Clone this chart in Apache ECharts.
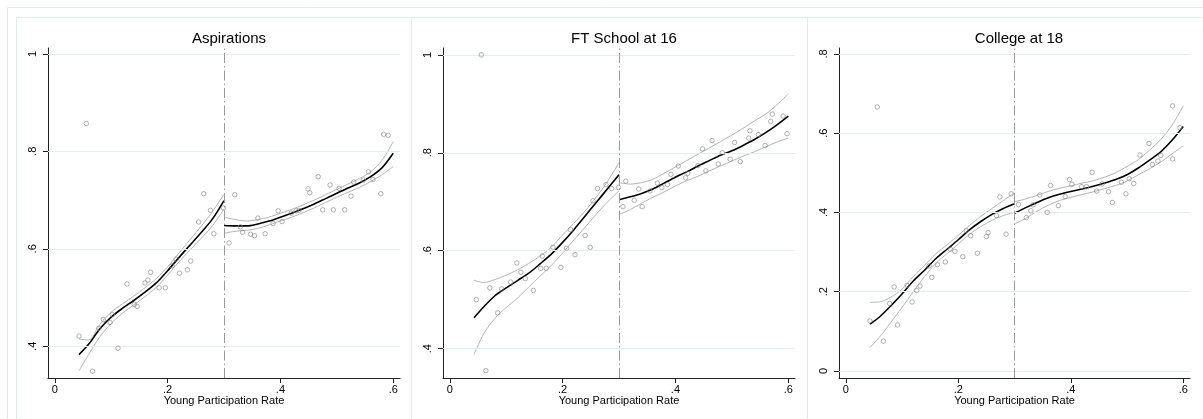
<!DOCTYPE html>
<html>
<head>
<meta charset="utf-8">
<script src="https://cdn.jsdelivr.net/npm/echarts@6/dist/echarts.min.js"></script>
<style>html,body{margin:0;padding:0;background:#fff;}#c{width:1203px;height:419px;}</style>
</head>
<body>
<div id="c"></div>
<script>
// ---------- data ----------
const panelTitles = ['Aspirations', 'FT School at 16', 'College at 18'];
const xTitle = 'Young Participation Rate';
const xTicks = [0, 0.2, 0.4, 0.6];
const yTicksAsp = [0.4, 0.6, 0.8, 1];
const yTicksFt = [0.4, 0.6, 0.8, 1];
const yTicksCol = [0, 0.2, 0.4, 0.6, 0.8];
const cutoff = 0.3;

const xL = [0.043,0.06,0.08,0.10,0.12,0.14,0.16,0.18,0.20,0.22,0.24,0.26,0.28,0.30];
const xR = [0.30,0.32,0.34,0.36,0.38,0.40,0.42,0.44,0.46,0.48,0.50,0.52,0.54,0.56,0.58,0.60];

// Aspirations
const aspX = [0.043,0.056,0.067,0.078,0.086,0.098,0.102,0.112,0.128,0.141,0.146,0.160,0.165,0.170,0.185,0.196,0.208,0.215,0.221,0.235,0.241,0.255,0.264,0.276,0.282,0.299,
              0.309,0.319,0.329,0.333,0.347,0.354,0.360,0.373,0.387,0.396,0.403,0.419,0.428,0.433,0.449,0.452,0.467,0.475,0.488,0.494,0.504,0.514,0.525,0.530,0.547,0.556,0.564,0.578,0.583,0.591];
const aspY = [0.421,0.857,0.349,0.437,0.455,0.449,0.465,0.396,0.528,0.486,0.482,0.530,0.536,0.552,0.520,0.520,0.565,0.579,0.550,0.557,0.575,0.655,0.713,0.679,0.631,0.684,
              0.612,0.711,0.645,0.634,0.630,0.627,0.663,0.631,0.652,0.678,0.656,0.673,0.678,0.679,0.723,0.715,0.748,0.680,0.731,0.680,0.724,0.680,0.708,0.737,0.741,0.758,0.742,0.713,0.835,0.833];
const aspFitL = [0.383,0.404,0.436,0.460,0.478,0.494,0.511,0.530,0.555,0.582,0.608,0.634,0.662,0.699];
const aspUpL  = [0.415,0.413,0.445,0.470,0.487,0.503,0.520,0.539,0.563,0.591,0.619,0.647,0.677,0.712];
const aspLoL  = [0.350,0.383,0.420,0.447,0.468,0.485,0.502,0.521,0.546,0.573,0.598,0.622,0.648,0.682];
const aspFitR = [0.648,0.647,0.647,0.651,0.657,0.665,0.673,0.682,0.692,0.703,0.714,0.725,0.735,0.748,0.766,0.796];
const aspUpR  = [0.665,0.660,0.657,0.660,0.665,0.673,0.681,0.690,0.700,0.711,0.722,0.733,0.744,0.758,0.781,0.820];
const aspLoR  = [0.632,0.636,0.638,0.642,0.649,0.657,0.665,0.674,0.684,0.695,0.706,0.716,0.726,0.738,0.752,0.769];

// FT School at 16
const ftX = [0.047,0.056,0.064,0.071,0.085,0.092,0.108,0.119,0.126,0.134,0.148,0.161,0.164,0.171,0.183,0.197,0.207,0.214,0.222,0.240,0.249,0.254,0.262,0.277,0.287,0.299,
             0.307,0.312,0.327,0.335,0.341,0.355,0.368,0.376,0.386,0.392,0.405,0.418,0.422,0.440,0.448,0.454,0.465,0.476,0.483,0.497,0.505,0.515,0.530,0.532,0.547,0.559,0.569,0.572,0.591,0.598];
const ftY = [0.500,1.000,0.355,0.524,0.473,0.522,0.536,0.575,0.556,0.543,0.519,0.564,0.589,0.564,0.607,0.566,0.605,0.643,0.592,0.631,0.607,0.702,0.727,0.735,0.727,0.729,
             0.690,0.742,0.703,0.726,0.690,0.722,0.738,0.729,0.735,0.756,0.773,0.749,0.758,0.774,0.808,0.763,0.825,0.777,0.800,0.787,0.821,0.782,0.830,0.845,0.837,0.815,0.864,0.879,0.875,0.839];
const ftFitL = [0.463,0.485,0.508,0.524,0.539,0.554,0.573,0.593,0.617,0.643,0.671,0.699,0.727,0.755];
const ftUpL  = [0.540,0.535,0.541,0.550,0.561,0.574,0.589,0.607,0.632,0.656,0.681,0.710,0.742,0.780];
const ftLoL  = [0.388,0.430,0.462,0.484,0.503,0.526,0.548,0.570,0.595,0.622,0.648,0.675,0.700,0.722];
const ftFitR = [0.704,0.710,0.717,0.726,0.738,0.750,0.761,0.773,0.784,0.795,0.804,0.815,0.827,0.841,0.857,0.875];
const ftUpR  = [0.739,0.736,0.739,0.746,0.758,0.771,0.784,0.797,0.810,0.823,0.836,0.850,0.865,0.879,0.898,0.920];
const ftLoR  = [0.674,0.684,0.697,0.709,0.720,0.732,0.743,0.752,0.763,0.773,0.783,0.793,0.802,0.812,0.822,0.830];

// College at 18
const colX = [0.043,0.056,0.067,0.078,0.086,0.092,0.109,0.118,0.126,0.132,0.148,0.153,0.163,0.177,0.186,0.194,0.208,0.214,0.222,0.234,0.250,0.253,0.268,0.274,0.285,0.294,
              0.307,0.321,0.329,0.333,0.345,0.358,0.364,0.378,0.390,0.398,0.402,0.419,0.428,0.438,0.446,0.456,0.467,0.474,0.490,0.498,0.504,0.512,0.523,0.539,0.545,0.555,0.560,0.581,0.581,0.594];
const colY = [0.126,0.666,0.075,0.170,0.212,0.116,0.216,0.174,0.203,0.214,0.265,0.236,0.268,0.275,0.307,0.302,0.288,0.354,0.341,0.297,0.339,0.349,0.392,0.439,0.345,0.447,
              0.420,0.387,0.404,0.419,0.444,0.400,0.468,0.417,0.440,0.483,0.471,0.465,0.465,0.501,0.454,0.472,0.452,0.425,0.476,0.447,0.485,0.473,0.545,0.574,0.521,0.530,0.544,0.669,0.535,0.614];
const colFitL = [0.118,0.136,0.164,0.194,0.227,0.254,0.283,0.307,0.331,0.356,0.377,0.395,0.410,0.422];
const colUpL  = [0.173,0.174,0.186,0.206,0.238,0.266,0.295,0.318,0.342,0.367,0.390,0.410,0.430,0.450];
const colLoL  = [0.059,0.085,0.122,0.160,0.200,0.238,0.271,0.296,0.320,0.345,0.364,0.380,0.392,0.400];
const colFitR = [0.398,0.412,0.425,0.437,0.446,0.453,0.459,0.466,0.474,0.483,0.495,0.512,0.532,0.553,0.582,0.617];
const colUpR  = [0.427,0.434,0.443,0.453,0.461,0.467,0.474,0.480,0.489,0.500,0.516,0.533,0.557,0.584,0.620,0.669];
const colLoR  = [0.371,0.385,0.403,0.418,0.430,0.438,0.445,0.452,0.460,0.468,0.479,0.495,0.510,0.527,0.548,0.568];

// ---------- build ----------
const FONT = '"Liberation Sans", Arial, sans-serif';
const pairs = (xs, ys) => xs.map((x, i) => [x, ys[i]]);
const fmt = v => (v === 0 ? '0' : v === 1 ? '1' : String(+v.toFixed(2)).replace(/^0\./, '.'));

const layout = [
  { left: 48, right: 1203 - 400, cx: 224, yMin: 0.335, yMax: 1.012, yTicks: yTicksAsp },
  { left: 443, right: 1203 - 795, cx: 619, yMin: 0.340, yMax: 1.014, yTicks: yTicksFt },
  { left: 839, right: 1203 - 1190, cx: 1014, yMin: -0.018, yMax: 0.815, yTicks: yTicksCol }
];
const panels = [
  { X: aspX, Y: aspY, fitL: aspFitL, upL: aspUpL, loL: aspLoL, fitR: aspFitR, upR: aspUpR, loR: aspLoR },
  { X: ftX, Y: ftY, fitL: ftFitL, upL: ftUpL, loL: ftLoL, fitR: ftFitR, upR: ftUpR, loR: ftLoR },
  { X: colX, Y: colY, fitL: colFitL, upL: colUpL, loL: colLoL, fitR: colFitR, upR: colUpR, loR: colLoR }
];

const grid = [], xAxis = [], yAxis = [], series = [], title = [];
const axisCol = '#222';
layout.forEach((L, k) => {
  grid.push({ left: L.left, right: L.right, top: 48, bottom: 41 });
  title.push({ text: panelTitles[k], left: L.cx, top: 26, textAlign: 'center',
    textStyle: { fontFamily: FONT, fontSize: 15, fontWeight: 'normal', color: '#000' } });
  xAxis.push({
    type: 'value', gridIndex: k, min: -0.012, max: 0.612,
    name: xTitle, nameLocation: 'middle', nameGap: 17, nameMoveOverlap: false,
    nameTextStyle: { fontFamily: FONT, fontSize: 11, color: '#000' },
    axisLine: { show: true, onZero: false, lineStyle: { color: axisCol, width: 1 } },
    axisTick: { show: true, length: 5, customValues: xTicks, lineStyle: { color: axisCol } },
    axisLabel: { customValues: xTicks, formatter: fmt, margin: 6, fontFamily: FONT, fontSize: 11, color: '#000' },
    splitLine: { show: false }
  });
  yAxis.push({
    type: 'value', gridIndex: k, min: L.yMin, max: L.yMax,
    axisLine: { show: true, onZero: false, lineStyle: { color: axisCol, width: 1 } },
    axisTick: { show: true, length: 5, customValues: L.yTicks, lineStyle: { color: axisCol } },
    axisLabel: { customValues: L.yTicks, formatter: fmt, rotate: 90, margin: 10, fontFamily: FONT, fontSize: 11, color: '#000' },
    splitLine: { show: false }
  });
  const P = panels[k];
  // gridlines + cutoff line
  series.push({
    type: 'line', xAxisIndex: k, yAxisIndex: k, data: [], z: 1, silent: true,
    markLine: {
      silent: true, symbol: ['none', 'none'], label: { show: false }, animation: false,
      emphasis: { disabled: true },
      data: L.yTicks.map(v => ({ yAxis: v, lineStyle: { color: '#e4eeee', width: 1, type: 'solid' } }))
        .concat([{ xAxis: cutoff, lineStyle: { color: '#9a9a9a', width: 1, type: [10, 3, 1.5, 3] } }])
    }
  });
  const lineS = (xs, ys, color, width, z) => ({
    type: 'line', xAxisIndex: k, yAxisIndex: k, data: pairs(xs, ys), showSymbol: false,
    smooth: 0.3, silent: true, z: z, lineStyle: { color: color, width: width }
  });
  series.push(lineS(xL, P.upL, '#b4b4b4', 1, 3));
  series.push(lineS(xL, P.loL, '#b4b4b4', 1, 3));
  series.push(lineS(xR, P.upR, '#b4b4b4', 1, 3));
  series.push(lineS(xR, P.loR, '#b4b4b4', 1, 3));
  series.push(lineS(xL, P.fitL, '#000', 1.6, 4));
  series.push(lineS(xR, P.fitR, '#000', 1.6, 4));
  series.push({
    type: 'scatter', xAxisIndex: k, yAxisIndex: k, data: pairs(P.X, P.Y), z: 5, silent: true,
    symbol: 'circle', symbolSize: 4.5,
    itemStyle: { color: 'rgba(0,0,0,0)', borderColor: '#858585', borderWidth: 0.8 }
  });
});

const frameCol = '#e2ecec';
const graphic = [
  { type: 'rect', z: 0, silent: true, shape: { x: 7.5, y: 7.5, width: 1210, height: 430 }, style: { fill: 'none', stroke: frameCol, lineWidth: 1 } },
  { type: 'rect', z: 0, silent: true, shape: { x: 16.5, y: 17.5, width: 395, height: 420 }, style: { fill: 'none', stroke: frameCol, lineWidth: 1 } },
  { type: 'rect', z: 0, silent: true, shape: { x: 411.5, y: 17.5, width: 396, height: 420 }, style: { fill: 'none', stroke: frameCol, lineWidth: 1 } },
  { type: 'rect', z: 0, silent: true, shape: { x: 807.5, y: 17.5, width: 420, height: 420 }, style: { fill: 'none', stroke: frameCol, lineWidth: 1 } }
];

const chart = echarts.init(document.getElementById('c'), null, { renderer: 'canvas' });
chart.setOption({
  backgroundColor: '#fff', animation: false,
  title, grid, xAxis, yAxis, series, graphic
});
</script>
</body>
</html>
